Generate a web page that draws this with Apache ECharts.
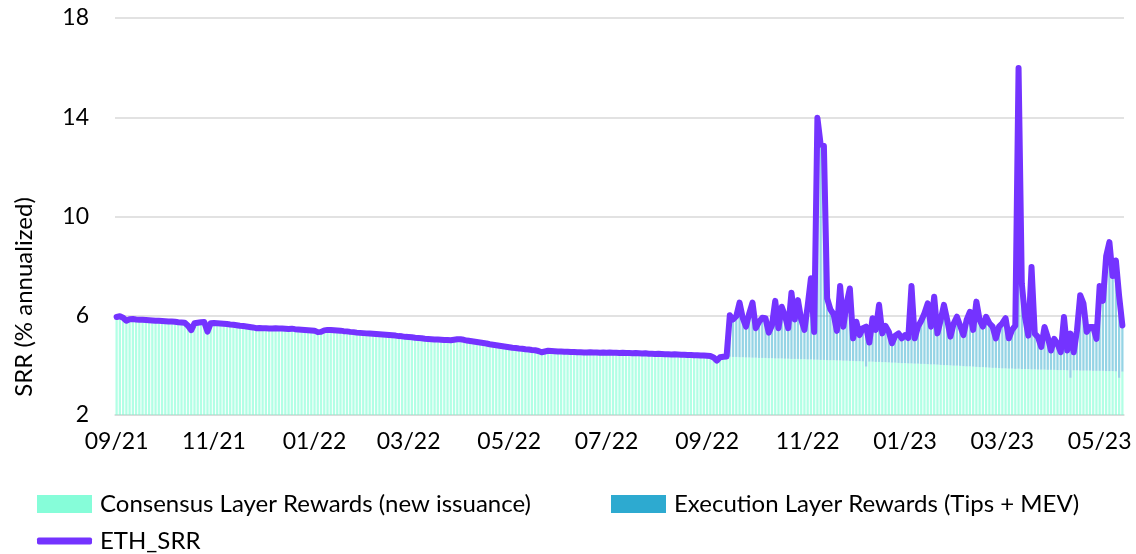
<!DOCTYPE html>
<html>
<head>
<meta charset="utf-8">
<script src="https://cdn.jsdelivr.net/npm/echarts@6/dist/echarts.min.js"></script>
<style>
  html, body { margin: 0; padding: 0; background: #fff; }
  #chart { width: 1136px; height: 554px; }
</style>
</head>
<body>
<div id="chart"></div>
<script>
// one point every 2 days, starting 2021-09-01
const startDate = '2021-09-01'
const stepDays = 2

const tickLabels = ['09/21', '11/21', '01/22', '03/22', '05/22', '07/22', '09/22', '11/22', '01/23', '03/23', '05/23']

// ETH staking reward rate (line)
const srr = [
  5.95, 5.98, 5.92, 5.80, 5.86, 5.87, 5.85, 5.84, 5.84, 5.83,
  5.82, 5.81, 5.80, 5.80, 5.79, 5.78, 5.77, 5.77, 5.76, 5.74,
  5.73, 5.72, 5.60, 5.42, 5.70, 5.72, 5.74, 5.75, 5.36, 5.70,
  5.71, 5.70, 5.69, 5.68, 5.67, 5.65, 5.64, 5.62, 5.60, 5.59,
  5.57, 5.55, 5.53, 5.50, 5.51, 5.50, 5.50, 5.49, 5.49, 5.50,
  5.49, 5.49, 5.48, 5.47, 5.48, 5.46, 5.45, 5.44, 5.43, 5.42,
  5.41, 5.40, 5.34, 5.35, 5.41, 5.43, 5.43, 5.42, 5.41, 5.40,
  5.38, 5.37, 5.35, 5.34, 5.32, 5.31, 5.30, 5.29, 5.28, 5.27,
  5.26, 5.25, 5.24, 5.23, 5.22, 5.21, 5.20, 5.18, 5.17, 5.15,
  5.14, 5.13, 5.11, 5.10, 5.09, 5.07, 5.06, 5.05, 5.04, 5.04,
  5.03, 5.02, 5.02, 5.01, 5.03, 5.05, 5.05, 5.03, 5.00, 4.98,
  4.96, 4.94, 4.92, 4.90, 4.88, 4.85, 4.83, 4.81, 4.79, 4.77,
  4.75, 4.73, 4.71, 4.70, 4.68, 4.67, 4.65, 4.64, 4.62, 4.61,
  4.58, 4.53, 4.56, 4.59, 4.58, 4.57, 4.56, 4.56, 4.55, 4.55,
  4.54, 4.54, 4.53, 4.53, 4.52, 4.52, 4.53, 4.52, 4.52, 4.51,
  4.52, 4.51, 4.52, 4.51, 4.51, 4.50, 4.51, 4.50, 4.50, 4.49,
  4.50, 4.49, 4.48, 4.49, 4.47, 4.47, 4.46, 4.47, 4.46, 4.45,
  4.45, 4.44, 4.45, 4.44, 4.43, 4.43, 4.42, 4.42, 4.41, 4.41,
  4.40, 4.40, 4.39, 4.38, 4.32, 4.19, 4.33, 4.35, 4.36, 6.02,
  5.85, 5.98, 6.53, 5.90, 5.56, 6.10, 6.53, 5.50, 5.75, 5.92,
  5.90, 5.32, 5.62, 6.60, 5.50, 6.36, 6.00, 5.50, 6.93, 5.85,
  6.63, 5.85, 5.43, 6.40, 7.51, 5.35, 13.98, 12.90, 12.85, 6.70,
  6.26, 6.06, 5.39, 7.20, 5.56, 6.50, 7.10, 5.09, 5.76, 5.22,
  5.50, 5.56, 4.92, 5.90, 5.43, 6.44, 5.29, 5.59, 5.36, 4.89,
  5.20, 5.29, 5.09, 5.22, 5.10, 7.20, 5.09, 5.56, 5.80, 6.10,
  6.50, 5.56, 6.77, 5.29, 5.83, 6.44, 5.83, 5.16, 5.69, 5.96,
  5.60, 5.22, 5.83, 6.16, 5.43, 6.57, 5.83, 5.56, 5.96, 5.70,
  5.56, 5.09, 5.56, 5.70, 5.90, 5.09, 5.43, 5.60, 15.98, 7.30,
  5.95, 5.20, 7.96, 5.28, 5.14, 4.74, 5.55, 5.14, 4.60, 5.07,
  4.87, 4.53, 5.95, 4.60, 5.28, 4.53, 5.40, 6.83, 6.50, 5.35,
  5.55, 5.55, 5.07, 7.20, 6.60, 8.40, 8.97, 7.60, 8.23, 6.80,
  5.61
]

// consensus layer part (new issuance)
const consensus = [
  5.95, 5.98, 5.92, 5.80, 5.86, 5.87, 5.85, 5.84, 5.84, 5.83,
  5.82, 5.81, 5.80, 5.80, 5.79, 5.78, 5.77, 5.77, 5.76, 5.74,
  5.73, 5.72, 5.60, 5.42, 5.70, 5.72, 5.74, 5.75, 5.36, 5.70,
  5.71, 5.70, 5.69, 5.68, 5.67, 5.65, 5.64, 5.62, 5.60, 5.59,
  5.57, 5.55, 5.53, 5.50, 5.51, 5.50, 5.50, 5.49, 5.49, 5.50,
  5.49, 5.49, 5.48, 5.47, 5.48, 5.46, 5.45, 5.44, 5.43, 5.42,
  5.41, 5.40, 5.34, 5.35, 5.41, 5.43, 5.43, 5.42, 5.41, 5.40,
  5.38, 5.37, 5.35, 5.34, 5.32, 5.31, 5.30, 5.29, 5.28, 5.27,
  5.26, 5.25, 5.24, 5.23, 5.22, 5.21, 5.20, 5.18, 5.17, 5.15,
  5.14, 5.13, 5.11, 5.10, 5.09, 5.07, 5.06, 5.05, 5.04, 5.04,
  5.03, 5.02, 5.02, 5.01, 5.03, 5.05, 5.05, 5.03, 5.00, 4.98,
  4.96, 4.94, 4.92, 4.90, 4.88, 4.85, 4.83, 4.81, 4.79, 4.77,
  4.75, 4.73, 4.71, 4.70, 4.68, 4.67, 4.65, 4.64, 4.62, 4.61,
  4.58, 4.53, 4.56, 4.59, 4.58, 4.57, 4.56, 4.56, 4.55, 4.55,
  4.54, 4.54, 4.53, 4.53, 4.52, 4.52, 4.53, 4.52, 4.52, 4.51,
  4.52, 4.51, 4.52, 4.51, 4.51, 4.50, 4.51, 4.50, 4.50, 4.49,
  4.50, 4.49, 4.48, 4.49, 4.47, 4.47, 4.46, 4.47, 4.46, 4.45,
  4.45, 4.44, 4.45, 4.44, 4.43, 4.43, 4.42, 4.42, 4.41, 4.41,
  4.40, 4.40, 4.39, 4.38, 4.32, 4.19, 4.33, 4.35, 4.36, 4.35,
  4.34, 4.34, 4.33, 4.33, 4.32, 4.32, 4.31, 4.31, 4.30, 4.30,
  4.30, 4.29, 4.29, 4.28, 4.28, 4.28, 4.27, 4.27, 4.26, 4.26,
  4.26, 4.25, 4.25, 4.24, 4.24, 4.23, 4.23, 4.22, 4.22, 4.21,
  4.21, 4.21, 4.20, 4.20, 4.19, 4.19, 4.18, 4.18, 4.17, 4.17,
  4.16, 3.95, 4.15, 4.15, 4.14, 4.14, 4.13, 4.13, 4.12, 4.11,
  4.11, 4.10, 4.09, 4.09, 4.08, 4.08, 4.07, 4.07, 4.06, 4.06,
  4.05, 4.04, 4.04, 4.03, 4.02, 4.01, 4.01, 4.00, 3.99, 3.99,
  3.98, 3.97, 3.96, 3.96, 3.95, 3.94, 3.93, 3.93, 3.92, 3.91,
  3.90, 3.90, 3.89, 3.88, 3.88, 3.87, 3.87, 3.86, 3.86, 3.85,
  3.85, 3.85, 3.84, 3.84, 3.83, 3.83, 3.83, 3.82, 3.82, 3.82,
  3.81, 3.81, 3.81, 3.80, 3.50, 3.80, 3.80, 3.79, 3.79, 3.79,
  3.79, 3.78, 3.78, 3.78, 3.78, 3.77, 3.77, 3.77, 3.76, 3.50,
  3.75
]

// execution layer part = what is left between the consensus bar and the srr line
const execution = srr.map((v, i) => +(v - consensus[i]).toFixed(2))

const DAY = 86400000
const t0 = Date.parse(startDate)
const categories = srr.map((_, i) => new Date(t0 + i * stepDays * DAY).toISOString().slice(0, 10))

// which category holds the 1st of each labelled month
const labelAt = {}
tickLabels.forEach(lbl => {
  const mm = +lbl.slice(0, 2)
  const yy = 2000 + +lbl.slice(3)
  const t = Date.UTC(yy, mm - 1, 1)
  labelAt[Math.floor((t - t0) / DAY / stepDays)] = lbl
})
const showTick = idx => labelAt[idx] !== undefined

const font = 'Lato, "Open Sans", sans-serif'
const legendText = { fontSize: 24, color: '#000', fontFamily: font, padding: [0, 0, 0, 3] }

const chart = echarts.init(document.getElementById('chart'))
chart.setOption({
  animation: false,
  textStyle: { fontFamily: font },
  grid: { left: 115, right: 12, top: 18, bottom: 139 },
  legend: [
    {
      left: 37,
      top: 492,
      padding: 0,
      itemWidth: 55,
      itemHeight: 18,
      icon: 'rect',
      textStyle: legendText,
      data: [{ name: 'Consensus Layer Rewards (new issuance)', itemStyle: { color: '#86FDD9' } }]
    },
    {
      left: 611,
      top: 492,
      padding: 0,
      itemWidth: 55,
      itemHeight: 18,
      icon: 'rect',
      textStyle: legendText,
      data: [{ name: 'Execution Layer Rewards (Tips + MEV)', itemStyle: { color: '#2DAAD0' } }]
    },
    {
      left: 37,
      top: 529,
      padding: 0,
      itemWidth: 55,
      itemHeight: 7,
      icon: 'roundRect',
      textStyle: legendText,
      data: [{ name: 'ETH_SRR', itemStyle: { color: '#7433FF' } }]
    }
  ],
  graphic: [
    {
      type: 'text',
      x: 24,
      y: 297,
      rotation: Math.PI / 2,
      style: {
        text: 'SRR (% annualized)',
        fontSize: 24,
        fontFamily: font,
        fill: '#000',
        align: 'center',
        verticalAlign: 'middle'
      }
    }
  ],
  xAxis: {
    type: 'category',
    data: categories,
    boundaryGap: true,
    axisLine: { lineStyle: { color: '#d9d9d9', width: 1.5 } },
    axisTick: { interval: showTick, length: 7, lineStyle: { color: '#d9d9d9', width: 1.5 } },
    axisLabel: {
      interval: showTick,
      formatter: (val, idx) => labelAt[idx] || '',
      fontSize: 23,
      color: '#000',
      margin: 15,
      fontFamily: font
    },
    splitLine: { show: false }
  },
  yAxis: {
    type: 'value',
    min: 2,
    max: 18,
    interval: 4,
    axisLine: { show: false },
    axisTick: { show: false },
    axisLabel: { fontSize: 23, color: '#000', margin: 26, fontFamily: font },
    splitLine: { lineStyle: { color: '#d9d9d9', width: 1.5 } }
  },
  series: [
    {
      name: 'Consensus Layer Rewards (new issuance)',
      type: 'bar',
      stack: 'rewards',
      data: consensus,
      barCategoryGap: '30%',
      itemStyle: { color: 'rgba(127, 255, 212, 0.6)' },
      emphasis: { disabled: true }
    },
    {
      name: 'Execution Layer Rewards (Tips + MEV)',
      type: 'bar',
      stack: 'rewards',
      data: execution,
      barCategoryGap: '30%',
      itemStyle: { color: 'rgba(43, 170, 204, 0.5)' },
      emphasis: { disabled: true }
    },
    {
      name: 'ETH_SRR',
      type: 'line',
      data: srr,
      symbol: 'none',
      z: 5,
      lineStyle: { color: '#7433FF', width: 6, cap: 'round', join: 'round' },
      itemStyle: { color: '#7433FF' },
      emphasis: { disabled: true }
    }
  ]
})
</script>
</body>
</html>
